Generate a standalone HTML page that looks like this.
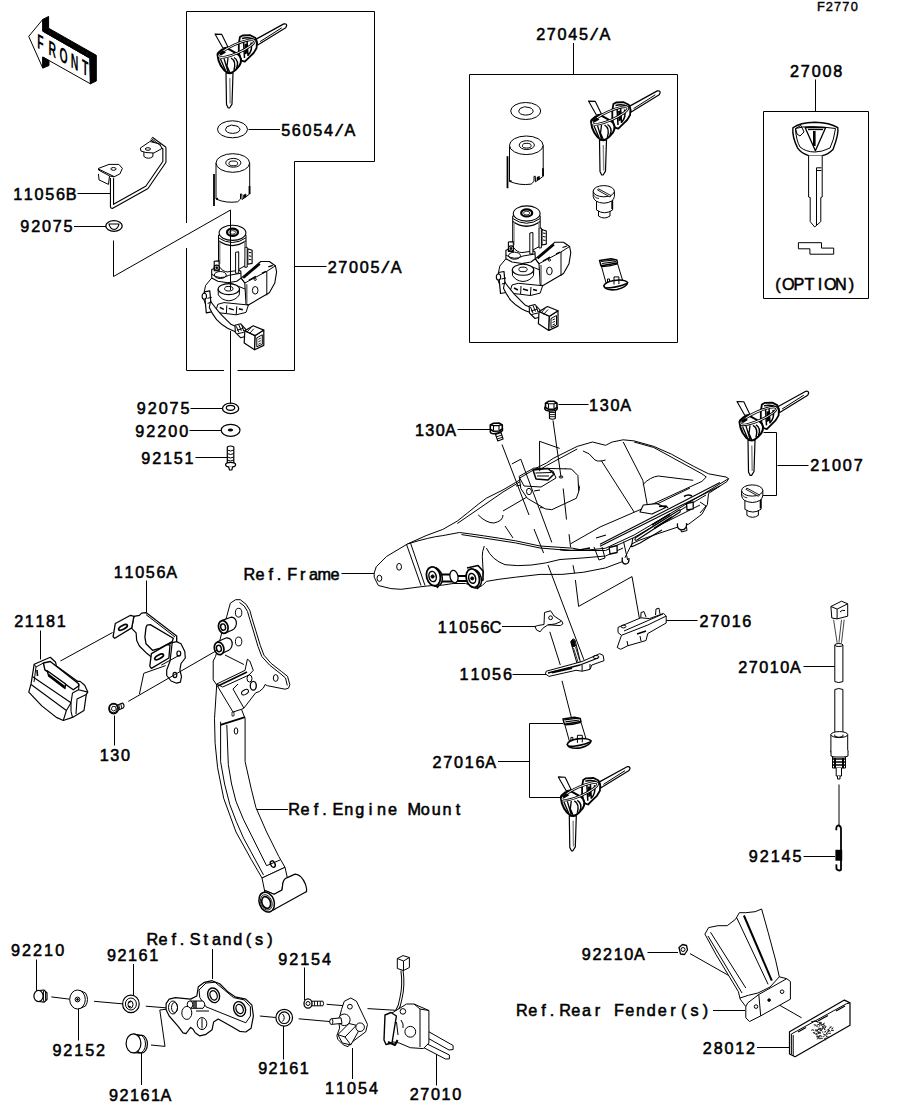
<!DOCTYPE html>
<html><head><meta charset="utf-8"><style>
html,body{margin:0;padding:0;background:#fff;width:914px;height:1103px;overflow:hidden}
svg{position:absolute;left:0;top:0}
.tx{font-family:"Liberation Sans",sans-serif;fill:#000;stroke:#000}
.ln line,.ln path{stroke:#000;stroke-width:1;fill:none}
.p{stroke:#000;stroke-width:1;stroke-linejoin:round}
</style></head><body>
<svg width="914" height="1103" viewBox="0 0 914 1103">
<g class="ln">
<line x1="573.5" y1="43" x2="573.5" y2="74.5"/>
<path d="M469.5,74.5 L677.5,74.5 L677.5,342.5 L469.5,342.5 Z"/>
<line x1="815.5" y1="79.5" x2="815.5" y2="111.5"/>
<path d="M763.5,111.5 L868.5,111.5 L868.5,298.5 L763.5,298.5 Z"/>
<line x1="248.5" y1="129.5" x2="280" y2="129.5"/>
<path d="M186.5,223 L186.5,11.5 L374.5,11.5 L374.5,161.5 L294.5,161.5 L294.5,370.5 L237.5,370.5"/>
<path d="M224,370.5 L186.5,370.5 L186.5,248"/>
<line x1="294.5" y1="266.5" x2="326.5" y2="266.5"/>
<line x1="77.5" y1="193.5" x2="110" y2="193.5"/>
<line x1="74" y1="226.5" x2="106" y2="226.5"/>
<path d="M113.5,240.5 L113.5,276.5 L230.5,210 L230.5,290"/>
<line x1="230.5" y1="331" x2="230.5" y2="407.5"/>
<line x1="190.5" y1="408.5" x2="222.5" y2="408.5"/>
<line x1="189.5" y1="430.5" x2="221" y2="430.5"/>
<line x1="195.5" y1="457.5" x2="227.5" y2="457.5"/>
<line x1="558.5" y1="404.5" x2="588.5" y2="404.5"/>
<line x1="457.5" y1="429.5" x2="491" y2="429.5"/>
<line x1="777.5" y1="465.5" x2="808.5" y2="465.5"/>
<path d="M763.5,432.5 L776.5,432.5 L776.5,495.5 L762,495.5"/>
<line x1="341.5" y1="573.5" x2="374.5" y2="573.5"/>
<line x1="146.5" y1="580.5" x2="146.5" y2="612.5"/>
<line x1="40.5" y1="630.5" x2="40.5" y2="659.5"/>
<line x1="666" y1="620.5" x2="697.5" y2="620.5"/>
<line x1="502" y1="626.5" x2="538" y2="626.5"/>
<line x1="512.5" y1="674.5" x2="546" y2="674.5"/>
<line x1="803.5" y1="666.5" x2="835" y2="666.5"/>
<line x1="114.5" y1="715.5" x2="114.5" y2="745.5"/>
<line x1="498" y1="761.5" x2="529.5" y2="761.5"/>
<path d="M563,723.5 L529.5,723.5 L529.5,797.5 L561.5,797.5"/>
<line x1="256" y1="809.5" x2="288" y2="809.5"/>
<line x1="803.5" y1="856.5" x2="835" y2="856.5"/>
<line x1="212.5" y1="949" x2="212.5" y2="979"/>
<line x1="36.5" y1="959.5" x2="36.5" y2="991"/>
<line x1="133.5" y1="964" x2="133.5" y2="996"/>
<line x1="304.5" y1="967.5" x2="304.5" y2="1000"/>
<line x1="647.5" y1="952.5" x2="678" y2="952.5"/>
<line x1="713" y1="1010.5" x2="745" y2="1010.5"/>
<line x1="78.5" y1="1008" x2="78.5" y2="1040.5"/>
<line x1="757" y1="1047.5" x2="789" y2="1047.5"/>
<line x1="283.5" y1="1026" x2="283.5" y2="1059.5"/>
<line x1="352.5" y1="1048" x2="352.5" y2="1079"/>
<line x1="436.5" y1="1052" x2="436.5" y2="1085.5"/>
<line x1="141.5" y1="1052.5" x2="141.5" y2="1085"/>
</g>
<defs>
<g id="keyset" class="p" fill="#fff">
 <path d="M215,34.1 L221.8,34.4 L227.9,47 L222.9,48 Z" stroke-width="1.1"/>
 <path d="M256.2,39.1 L283.8,23.9 Q286.5,23.4 286.7,25.6 L285.7,27.8 L257.7,45 Z" stroke-width="1.2"/>
 <path d="M260.1,41.6 L281.8,27.8" fill="none"/>
 <path d="M239.9,37.1 L242.6,35.5 L250.3,35.2 L255.2,37.7 L256.9,42 L256.6,48 L253.6,53 L248.1,58.4 L244.8,61.7 L241.5,60.6 L239.9,57.4 L238.8,50.8 L238.8,43.7 Z" stroke-width="1.8"/>
 <path d="M242,38.5 Q249,36.5 255,40 M243.5,41 L244.5,58 M247,40 L248,56 M251,42.5 Q253,50 248,55.5" fill="none" stroke-width="1.5"/>
 <path d="M244.5,44 L247.5,43.5 L247.8,53 L245,54.5 Z" fill="#000" stroke="none"/>
 <path d="M226,73 L226.5,104.6 L228.2,108 L229.6,108 L232,104.1 L233,73 Z" stroke-width="1.2"/>
 <path d="M229.8,78 L230.2,103.6" fill="none" stroke="#888" stroke-width="1.4"/>
 <path d="M217.5,54.6 L218,53 L221.8,49.7 L225.1,48.6 L228.4,48.9 L237.7,54.1 L239.9,56.3 L241,59.5 L240.7,62.8 L239.4,65.6 L236.1,69.4 L232.8,72.1 L230,73.2 L227.3,72.7 L224,70 L220.8,65.6 L218.6,60.6 Z" stroke-width="2"/>
 <path d="M220.5,59 L225.5,70.5 M224,58.5 L228,72 M228,58 L227,66 L230,73" fill="none" stroke-width="1.3"/>
 <path d="M231,58 Q236.5,61 234,70 M234,57.5 Q239.5,61 236.5,68" fill="none" stroke-width="1.4"/>
 <ellipse cx="236.6" cy="48.6" rx="19.4" ry="4.4" transform="rotate(-24 236.6 48.6)" fill="none" stroke-width="2.6"/>
 <ellipse cx="236.6" cy="48.6" rx="19.4" ry="4.4" transform="rotate(-24 236.6 48.6)" fill="none" stroke="#fff" stroke-width="0.9"/>
 <path d="M219,53.5 L223,50.5 L226,52.5 L221,55.5 Z" fill="#000" stroke="none"/>
</g>
<g id="washer" class="p" fill="#fff">
 <ellipse cx="232.5" cy="129.3" rx="15" ry="8.5"/>
 <path d="M225.5,129.5 Q226,126 230,125.6 Q231.5,124.5 233,125.4 Q239.5,125.8 240,129.5 Q239.5,133 232.5,133.4 Q226,133 225.5,129.5 Z"/>
</g>
<g id="cap" class="p" fill="#fff">
 <path d="M216,163 L216,199 Q226,203.5 237.7,201.8 L240.5,199 L240.5,194 L241.8,194 L242,199.5 L249.7,194 L249.7,163 Z"/>
 <ellipse cx="232.8" cy="163" rx="16.8" ry="9.3"/>
 <ellipse cx="233.3" cy="162.8" rx="7.6" ry="4.4"/>
 <ellipse cx="233.3" cy="163.4" rx="4.4" ry="2.4"/>
 <path d="M214,174 L214,206 M216,199 L218,198.5" fill="none" stroke-width="1.8"/>
 <path d="M249.5,186 L249.5,194" fill="none" stroke-width="1.8"/>
 <path d="M243.5,195 L246,194 L246,197 L243.5,198 Z" fill="#000" stroke-width="0.6"/>
</g>
<g id="switch" class="p" fill="#fff">
 <!-- lower body / base -->
 <path d="M505.9,258.8 L499.8,266.1 L497.3,278.4 L501,288.2 L509.6,293.1 L520.6,294.3 L530.4,295.5 L540.2,293.1 L542.6,285.7 L540,270 L520,262 Z"/>
 <path d="M512,285 L518.2,283.3 L542.6,285.7 M509.6,293.1 L512,285 M520.6,294.3 L521,286 M530.4,295.5 L531,287" fill="none"/>
 <path d="M514,288 L518,290 M523,289 L528,290.5 M533,289.5 L537,290.5" fill="none" stroke-width="1.4"/>
 <!-- left clamp -->
 <path d="M498.5,272.5 L504,271.5 L505.9,292.5 L500.5,293.5 Z" stroke-width="1.2"/>
 <ellipse cx="498.5" cy="277" rx="2.2" ry="3" stroke-width="1.1"/>
 <path d="M501.5,279 L506,278 M501.8,284 L506,283" fill="none"/>
 <!-- right block -->
 <path d="M535.3,258.8 L554.9,242.2 L563.5,242.2 L569.6,246.5 L570.8,252.6 L569,263.7 L563.5,273.5 L542.6,285.7 L540.2,284.5 L539,263.7 Z" stroke-width="1.1"/>
 <path d="M539,263.7 L561,252 L569.6,246.5 M561,252 L561,276" fill="none"/>
 <path d="M535.3,258.8 L539,263.7" fill="none"/>
 <path d="M537.5,258.5 L554,244.5" fill="none" stroke-width="2.2"/>
 <path d="M543,261 L550,257 M556,254 L560,252 M562.5,247.5 L567,246" fill="none" stroke-width="1.3"/>
 <ellipse cx="549.4" cy="271" rx="2.8" ry="3.8"/>
 <circle cx="549.4" cy="260" r="1.1" fill="none"/>
 <path d="M541,265 L541,284" fill="none" stroke="#666" stroke-width="1.4"/>
 <!-- lower ring -->
 <path d="M512.3,269.8 L512.5,275.5 Q516,281 523,281.5 Q530,281 533.5,275.5 L533.7,269.8 Z"/>
 <ellipse cx="523" cy="269.8" rx="10.7" ry="5.5" stroke-width="1.1"/>
 <ellipse cx="523" cy="269.4" rx="4.2" ry="2.3"/>
 <!-- housing between -->
 <path d="M505.9,250.2 L514.5,247 L530,249 L535,252 L535.3,258.8 L531,262 L522,263.5 L512,262 L505.9,258.8 Z" stroke-width="1.1"/>
 <path d="M505.9,255 Q514.5,261 523,256 L535,254" fill="none"/>
 <ellipse cx="514.5" cy="255.7" rx="6" ry="3.5" fill="none"/>
 <!-- tabs -->
 <path d="M542,229.4 L546.3,231 L546.3,244.1 L542,245 Z" stroke-width="1.1"/>
 <path d="M543,233 L545.5,233.5 M543,236.5 L545.5,237 M543,240 L545.5,240.5" fill="none"/>
 <!-- cylinder -->
 <path d="M512.7,215.9 L512.7,246.5 Q517,252.6 521.8,252.6 L530.4,251.4 L540.2,246 L540.2,215.9 Z"/>
 <path d="M512.7,218.5 Q526.5,228 540.2,218.5" fill="none"/>
 <path d="M512.7,221.5 Q526.5,231 540.2,221.5" fill="none" stroke-width="1.3"/>
 <path d="M529.8,233 L532.9,232.5 L532.9,253.9 L529.8,254 Z"/>
 <path d="M539,228.2 L541.4,228 L541.4,247.8 L539,248 Z"/>
 <path d="M514,222 L514,245 M539,222 L539,240" fill="none" stroke="#777" stroke-width="1.2"/>
 <ellipse cx="526.7" cy="213.5" rx="13.4" ry="7.6" stroke-width="1.1"/>
 <ellipse cx="526.7" cy="212.9" rx="5.5" ry="3.6" stroke-width="2.2"/>
 <ellipse cx="526.7" cy="213.1" rx="3.2" ry="1.8" fill="none" stroke-width="0.8"/>
 <!-- left post -->
 <path d="M508.4,242 L513.3,241.6 L513.3,251.4 L508.4,251.4 Z" stroke-width="1.1"/>
 <circle cx="511" cy="248.5" r="2.6" stroke-width="1.2"/>
 <circle cx="511" cy="248.5" r="1" fill="#000"/>
 <!-- wire -->
 <path d="M504.7,282 Q509,288 514.5,294.3 Q520,300 525.5,305.3 L531.6,307.8 L530.4,312.6 Q526,311 521.8,309 Q515,305 510.8,300.4 Q506,294 503.5,288.2 Z" stroke-width="1.1"/>
 <!-- wire boot -->
 <path d="M529.2,306 L535,304.5 L540,310 L540,317 L535,318.5 L529.5,313 Z" stroke-width="1.1"/>
 <path d="M530.5,307 L533,313 M533,305.5 L535.5,311.5 M536,306 L538,312 M531,311 L537.5,309 M531.5,314.5 L538,313" fill="none" stroke-width="1"/>
 <!-- connector -->
 <path d="M539,311.4 L549.4,316.3 L548.8,330.4 L538.4,323.7 Z" stroke-width="1.2"/>
 <path d="M549.4,316.3 L558,310.8 L558,326.1 L548.8,330.4 Z" stroke-width="1.2"/>
 <path d="M539,311.4 L547.5,306.5 L558,310.8 L549.4,316.3 Z" stroke-width="1.2"/>
 <path d="M551,318.5 L556.5,315.5 L556.5,325 L551,327.5 Z" fill="none" stroke-width="1"/>
 <path d="M552.5,320 L555,318.8 M552.5,322.5 L555,321.3 M552.5,325 L555,323.8" fill="none" stroke-width="0.9"/>
 <path d="M541,313 L545,308.5 M543.5,314.5 L548,309.5" fill="none" stroke-width="0.9"/>
</g>
</defs>
<use href="#keyset"/>
<use href="#washer"/>
<use href="#cap"/>
<use href="#switch" transform="translate(-294.2,19.3)"/>
<use href="#washer" transform="translate(293.2,-18.3)"/>
<use href="#cap" transform="translate(293.5,-17.7)"/>
<use href="#switch"/>
<use href="#keyset" transform="translate(373.5,67)"/>
<use href="#keyset" transform="translate(522,367.4)"/>
<use href="#keyset" transform="translate(343.3,742.8)"/>
<defs>
<g id="plug" class="p" fill="#fff">
 <path d="M598.5,211 L598.5,216 Q604,220 610,216 L610,211 Z"/>
 <path d="M596.5,199 L596.5,210 Q604.5,215.5 612.6,210 L612.6,199 Z"/>
 <path d="M612.2,200 L612.2,209" stroke-width="1.8" fill="none"/>
 <path d="M593.2,191.2 L593.2,196.5 Q594,202.5 603.8,203.2 Q613.6,202.5 614.4,196.5 L614.4,191.2 Z"/>
 <ellipse cx="603.8" cy="191.2" rx="10.6" ry="5.6"/>
 <path d="M597.5,190 L598.5,188.8 L611,195.6 L610,197 Z" fill="#fff" stroke-width="0.9"/>
 <path d="M593.5,195 Q596,199 599,198.5" fill="none" stroke-width="0.8"/>
</g>
<g id="lockcyl" class="p" fill="#fff">
 <path d="M600.6,263.3 L616.8,261.3 L622.5,280 L606.4,284.2 Z"/>
 <path d="M603.75,286 Q605,282 614,280.5 Q624,279 627.7,282.5 Q627,287 617,289.5 Q606,291 603.75,286 Z" fill="#fff" stroke-width="1.6"/>
 <path d="M605,288 Q616,288 627,283.5" fill="none" stroke-width="1.6"/>
 <path d="M614,284.5 L614,276.9 L618.9,276.9 L618.9,284" fill="none"/>
 <path d="M607.5,282 L607.5,279 L609.5,279 L609.5,282" fill="none"/>
 <path d="M599.6,260.5 L611,258.8 L616.8,260 L617.5,263 L601,265.8 Z" fill="#fff" stroke-width="1.5"/>
 <path d="M601,261.5 L615,259.8 M602,263.5 L616,261.6" fill="none" stroke-width="1.2"/>
 <path d="M602,266.5 Q609,266.5 617.5,264" fill="none" stroke-width="1.3"/>
</g>
</defs>
<use href="#plug"/>
<use href="#lockcyl"/>
<use href="#plug" transform="translate(148.4,299.3)"/>
<use href="#lockcyl" transform="translate(-36.6,458.4)"/>
<g class="p" fill="#fff">
 <path d="M792.9,127.7 Q800,122.5 814.7,122.2 Q830,122.5 837.8,127.7 Q839,134 833,149.5 Q828,154.5 822.2,155.6 L808.6,155.6 Q801,153 797.7,148.1 Q792,137 792.9,127.7 Z" stroke-width="1.4"/>
 <path d="M795.5,128.5 Q808,124.5 835.5,128.5 Q834,140 830,148 Q822,152 815,152 Q806,152 800,147 Q796,140 795.5,128.5 Z" fill="none"/>
 <path d="M805.2,127.7 L825.6,127.7 L815.4,150.8 Z" fill="none" stroke-width="1.3"/>
 <path d="M808,129.5 L823,129.5" stroke-width="1.3"/>
 <path d="M814.3,131 L814.3,146" stroke-width="2.6"/>
 <path d="M795.5,128.5 L801,125.5 L804,132 L800,136 L797,134 Z" fill="none"/>
 <path d="M808.6,155.6 L808.6,197 L810.2,197.5 L810.2,221.6 L814.7,227 L820.8,221.6 L820.8,197.5 L822.2,197 L822.2,155.6" />
 <path d="M816.5,167.8 L816.5,225 M821.5,167.8 L816.5,167.8 M816.5,170.5 L821.5,170.5" fill="none"/>
 <path d="M798.4,242.7 L821.5,242.7 L821.5,248.1 L833.7,248.1 L833.7,254.2 L809.9,254.2 L809.9,248.8 L798.4,248.8 Z"/>
</g>
<g class="p" fill="none">
 <path fill="#fff" d="M374.2,573 L376.2,566.8 L386.6,556.4 L407.4,544 L426.1,535.6 L442.8,529.4 L457.3,521.1 L467.7,512.8 L478.1,504.4 L486.4,498.2 L503,489.9 L515.5,482.6 L523.8,477.4 L534.2,469.1 L546.7,462.9 L553.1,458.4 L577.2,446.4 L592.5,442 L605.6,445.3 L612.2,442 L623.2,439.8 L634.1,440.9 L653.8,446.4 L671.3,454.1 L693.2,466.1 L708.5,473.8 L726,477 L728.6,478.6 L727.1,481.4 L708.5,493.5 L707.4,504.4 L701.9,514.2 L688.8,524.1 L680,526.3 L660,533 L640,540 L631.9,543.8 L627.5,552.5 L623.2,561.3 L605.6,567.9 L583.8,572.2 L561.9,574.4 L540,574.4 L515.5,577.2 L498.9,579.3 L486.4,581.4 L482.3,585.5 L478.1,587.6 L465.6,583.5 L453.2,583.5 L442.8,585.1 L432.4,585.5 L422,586.6 L401.2,589.3 L390.8,588.6 L378.3,585.5 L374.2,577.2 Z"/>
 <path d="M407.4,544 Q430,537 442.8,535.6 L459.4,532.5 Q480,535 515.5,540.8 L540,546 L572.8,548.2 L583.8,550.4 L605.6,548.2 L634.1,535 L704.1,493.5 L728.6,478.6"/>
 <path d="M461.5,534.6 L515.5,542.9 L540,548 L570,550.5 L605.6,550.5 L634.1,537.5 L706,495"/>
 <path d="M634.1,442 L653.8,447.5 L701.9,473.8 L706.3,477 L701.9,481.4 L647.2,506.6 L600,527 L570.6,543.8"/>
 <path d="M486.4,548.1 Q492,560 505,564.7 Q530,568 560,559.5 Q585,558 605.6,556 L623,548"/>
 <path d="M484.3,546 Q482,552 482.3,556.4 L483.3,575.1"/>
 <path d="M406.4,544 L421,585.5 M410.5,543 L425,585.5"/>
 <path d="M540,507.7 L553.1,507.7 L576.1,495.6 Q580,490 579.4,486.9 L572.8,470.5"/>
 <path d="M601.3,460.6 L634.1,512"/>
 <path d="M623.2,442 L642.8,480.3 L647.2,504.4"/>
 <path d="M642.8,484.7 Q650,477 658.2,476 L693.2,480.3"/>
 <path d="M457.3,523.5 Q480,508 503,492 L546.7,465.5 L577.2,449"/>
 <path d="M478.1,514.8 Q486,523 494,523 Q503,521 503,515"/>
 <path d="M503,511 L527,497 L552,488 L576,480"/>
 <path d="M583,451 Q590,453 593,458 Q596,463 605.6,460"/>
 <path d="M505,526 L513,538 M538,474 L555,485"/>
 <path d="M655,505 L690,488 M660,525 L700,505"/>
 <path d="M700,513 L706,506 L700,502 M679.5,526 L681.5,532 L687,530.5 L686,523.5"/>
 <path d="M594,547 L599,560 L605,558 L602,547"/>
 <path d="M565,468 L569,480"/>
 <path d="M600,544.3 L720,482.6 M600,546.3 L720,485.9" stroke-width="1.1"/>
 <path d="M635.4,537.8 L678.8,510.2 Q681,509 680,512 L637,540 Q634,541 635.4,537.8 Z" fill="#fff" stroke-width="1.2"/>
 <path d="M652,525 L670,514 M654,528.5 L672,517" stroke-width="1.6"/>
 <path d="M632.8,538 L631.5,547 M631.5,547 L640,543 L662,530" stroke-width="1.1"/>
 <path d="M609.2,547.5 L617.1,545.5 L617.1,552.5 L610,554 Z" fill="#fff" stroke-width="1.3"/>
 <path d="M686.6,503.6 L693.2,502 L693.2,508.9 L687,510 Z" fill="#fff" stroke-width="1.3"/>
 <path d="M677.5,523.3 Q676.5,529.5 682,529.9 Q687,529.5 686.6,523.3" fill="#fff" stroke-width="1.3"/>
 <path d="M622.3,557.5 Q621.5,564 625.5,564 Q629.5,564 628.9,558" fill="#fff" stroke-width="1.3"/>
 <path d="M643.3,505 L656.5,503.6 L665.6,507.6 L652,514 L640,512 Z" fill="#fff" stroke-width="1.1"/>
 <path d="M659,506.5 L666,506 L668,508" stroke-width="1.4"/>
 <path d="M684,496.5 Q688,494 692,496" stroke-width="1.5"/>
 <path d="M623.6,541.7 L627.6,560" stroke-width="1"/>
 <path d="M596,538 L606,535 M560,549.5 Q575,552 590,548" stroke-width="1.3"/>
 <ellipse cx="379.4" cy="578.3" rx="2.4" ry="3.1"/>
 <ellipse cx="399.1" cy="566.8" rx="2.4" ry="3.4"/>
 <path d="M438,574.5 L452,574.5 L452,581.5 L438,581.5 Z" fill="#fff" stroke-width="1.8"/>
 <path d="M456,575.8 L469,576 L469,581 L456,581 Z" fill="#fff" stroke-width="1.8"/>
 <path d="M436,577 Q440,586 437,588 M476,579 Q481,586 477,589" stroke-width="1.5"/>
 <ellipse cx="454" cy="576.6" rx="4" ry="6.3" transform="rotate(-12 454 576.6)" fill="#fff" stroke-width="1.3"/>
 <ellipse cx="435.6" cy="577" rx="6.5" ry="9.6" transform="rotate(-15 435.6 577)" fill="#fff" stroke-width="1.5"/>
 <ellipse cx="433.4" cy="576.3" rx="6.8" ry="9.6" transform="rotate(-15 433.4 576.3)" fill="#fff" stroke-width="1.8"/>
 <ellipse cx="432.6" cy="576.5" rx="3.6" ry="5.2" transform="rotate(-15 432.6 576.5)" stroke-width="1.5"/>
 <circle cx="432.6" cy="576.5" r="1.6" fill="#000"/>
 <path d="M467,568 L478,565.5 L483,571 L483,580 L478,582" fill="#fff" stroke-width="1.6"/>
 <ellipse cx="474.8" cy="578.8" rx="6.5" ry="9.4" transform="rotate(-15 474.8 578.8)" fill="#fff" stroke-width="1.5"/>
 <ellipse cx="472.8" cy="578.2" rx="6.5" ry="9.4" transform="rotate(-15 472.8 578.2)" fill="#fff" stroke-width="1.8"/>
 <ellipse cx="472.2" cy="578.4" rx="3.4" ry="5" transform="rotate(-15 472.2 578.4)" stroke-width="1.5"/>
 <circle cx="472.2" cy="578.4" r="1.5" fill="#000"/>
 <path d="M519.2,476.3 L533.8,468.1 L571.4,469 L577.9,475.5 L578.7,491.8 L576.3,498.3 L551.8,509.7 L545.3,508.9 L527.3,498.3 L520.8,488.5 Z" fill="#fff"/>
 <path d="M519.7,478 L536,468.5 L553,471 L556,478 L541,487 L524,486 Z" fill="#fff"/>
 <path d="M533,470 L548,468.5 L554,474 L548,480 L536,479 Z" fill="#fff" stroke-width="1.5"/>
 <path d="M535.5,473 L551,472.5 M537,476 L549,476" stroke-width="1.2"/>
 <ellipse cx="529" cy="491.5" rx="2.5" ry="3.2"/>
 <ellipse cx="561" cy="477" rx="2" ry="1"/>
 <path d="M516,486 L521,485 M534,491 L540,490" stroke-width="1.2"/>
</g>
<g class="p" fill="#fff">
 <path d="M549.3,410.5 L549.5,418.5 Q552.3,420 555.3,418.5 L555.5,410.5 Z" stroke-width="1.1"/>
 <path d="M549.4,412.5 L555.4,412.5 M549.4,414.6 L555.4,414.6 M549.4,416.7 L555.4,416.7" stroke-width="0.9"/>
 <ellipse cx="551" cy="408.3" rx="6.3" ry="2.8" stroke-width="1.5"/>
 <path d="M545.5,403.2 L548.5,401.3 L554,401.3 L557,403.2 L557,407.5 L554,409.2 L548.5,409.2 L545.5,407.5 Z" stroke-width="1.6"/>
 <path d="M548.5,403.8 L554,403.8 L554,408.5 M548.5,403.8 L548.5,408.5 M545.5,403.2 L548.5,403.8 M557,403.2 L554,403.8" fill="none" stroke-width="1.1"/>
 <path d="M494.8,432.3 L497.8,441 L503.1,439 L500.5,431 Z" stroke-width="1.1"/>
 <path d="M495.7,434.5 L501,432.8 M496.5,436.8 L501.9,435 M497.2,439 L502.6,437.2" stroke-width="0.9"/>
 <ellipse cx="496.4" cy="430.5" rx="6.3" ry="2.8" transform="rotate(-12 496.4 430.5)" stroke-width="1.5"/>
 <path d="M490.3,425 L493.5,423.2 L499,423 L502.3,425 L502.3,429 L499,431 L493.5,431.2 L490.3,429.3 Z" stroke-width="1.6"/>
 <path d="M493.5,425.6 L499,425.4 L499,430 M493.5,425.6 L493.5,430.5 M490.3,425 L493.5,425.6 M502.3,425 L499,425.4" fill="none" stroke-width="1.1"/>
</g>
<g class="ln">
 <path d="M230.5,210 L230.5,290"/>
 <path d="M502,444.5 L529,515 M534,529 L543.6,553 M548,565 L583.9,659.8"/>
 <path d="M511.8,464 L520.8,459.2 L551.8,542.4"/>
 <path d="M553,420.5 L561,477 M563.2,488.5 L566.5,519.5 M569,534.2 L570.6,547.3 M573,565.2 L574.6,573.4 M575.4,580 L578.6,606.4 L632,576.6 L639.9,621.3"/>
 <path d="M549.8,631.8 L560.3,665 M562,680.8 L571.6,718.4"/>
 <path d="M539.5,441.3 L539.7,471.2 M539.5,441.3 L559.7,448.4"/>
</g>
<g class="p" fill="#fff">
 <!-- 11056C -->
 <path d="M544.5,612.5 L550.6,610.8 L554.1,616 L562,621.3 L562.9,623.9 L560.3,625.6 L548,624.8 L542.8,628.3 L540.1,631.8 L536.6,630 L534.9,626.5 L537.5,625.6 L544,624.5 Z"/>
 <circle cx="550.6" cy="617.8" r="1.9"/>
 <path d="M548,624.8 L555,624 L561,621.5" fill="none"/>
 <!-- 11056 plate -->
 <path d="M570.8,642 L573,638.8 L575,640 L580.4,662 L577,663.3 Z"/>
 <path d="M571,641 L574,640 L575.5,646 L572.5,647 Z" fill="#000"/>
 <path d="M573.5,648 L578,662 M575.5,647 L579.5,660" fill="none" stroke-width="0.8"/>
 <path d="M546.3,671.2 L582.1,661.5 L599.7,653.7 L603.2,655.4 L604,660.7 L591.8,665 L590,669.4 L582.1,671.2 L576,670.3 L548.9,676.4 L545.4,673.8 Z"/>
 <path d="M548,673 L580,665 L598,658" fill="none" stroke-width="1.3"/>
 <path d="M552,672.5 L572,668" fill="none" stroke-width="2"/>
 <path d="M582.1,665 L582.1,671.2 M590,664 L590,669" fill="none"/>
 <ellipse cx="596" cy="657" rx="3" ry="1.5" fill="none"/>
 <!-- 27016 bracket -->
 <path d="M618,627.4 L640.8,617.8 L649.5,618.6 L663.5,613.4 L666.2,616 L666.2,623 L647.8,633.5 L646,640.5 L627.7,645.8 L620.7,649.3 L617.2,647.5 L621.5,635.3 L618,632.6 Z"/>
 <path d="M621.5,635.3 L647.8,625 L666.2,616 M624,631 L663,614" fill="none"/>
 <path d="M640.8,617.8 L641,612.5 L644,611.6 L646,617" fill="none"/>
 <path d="M655.5,615 L656,609 L659,608.2 L660,614" fill="none"/>
 <path d="M627,641 L628,646 M640,636 L641,641" fill="none"/>
 <ellipse cx="623.5" cy="626.5" rx="2.4" ry="1.4" fill="none"/>
 <path d="M637,634 L646,631" fill="none" stroke-width="1.5"/>
</g>
<g class="p">
<path d="M28.7,36.4 L42.8,19.4 L42.8,31.2 L89.9,58.2 L90.4,83.8 L42.8,57 L42.8,68.1 Z" fill="#fff"/>
<path d="M42.8,19.4 L48.6,16.4 L48.6,28.2 L96.3,55.3 L96.3,81 L90.4,83.8 L89.9,58.2 L42.8,31.2 Z" fill="#000"/>
<rect x="48.88" y="30.78" width="1" height="1" fill="#fff"/>
<rect x="52.62" y="32.95" width="1" height="1" fill="#fff"/>
<rect x="56.38" y="35.12" width="1" height="1" fill="#fff"/>
<rect x="60.12" y="37.28" width="1" height="1" fill="#fff"/>
<rect x="63.88" y="39.45" width="1" height="1" fill="#fff"/>
<rect x="67.62" y="41.62" width="1" height="1" fill="#fff"/>
<rect x="71.38" y="43.78" width="1" height="1" fill="#fff"/>
<rect x="75.12" y="45.95" width="1" height="1" fill="#fff"/>
<rect x="78.88" y="48.12" width="1" height="1" fill="#fff"/>
<rect x="82.62" y="50.28" width="1" height="1" fill="#fff"/>
<rect x="86.38" y="52.45" width="1" height="1" fill="#fff"/>
<rect x="90.12" y="54.62" width="1" height="1" fill="#fff"/>
<path d="M42.8,57 L49,60.6 L49,65.5 L42.8,68.1 Z" fill="#000"/>
</g>
<g transform="translate(0,0) matrix(1,0.574,0,1,0,0)" font-family="Liberation Sans" font-weight="bold" fill="#000">
<text transform="translate(37.2,26.3) scale(0.5,1)" font-size="21">F</text>
<text transform="translate(48.5,26.3) scale(0.5,1)" font-size="21">R</text>
<text transform="translate(59.4,26.3) scale(0.5,1)" font-size="21">O</text>
<text transform="translate(70.7,26.3) scale(0.5,1)" font-size="21">N</text>
<text transform="translate(82,26.3) scale(0.5,1)" font-size="21">T</text>
</g>
<g class="p" fill="#fff">
 <!-- 21181 box -->
 <path d="M41.8,705.1 L43,703 L58.5,714.5 L57.2,717.4 Z" fill="#fff" stroke-width="1.3"/>
 <path d="M34.2,664.2 L50.3,657.3 L55.6,662.3 L56.4,666.1 L77.8,681.4 L80.1,681.4 L84.7,685.2 L87.8,692.1 L86.3,694.4 L84,710.5 L72.5,717.4 L63.3,720.5 L56.4,717.4 L41.8,705.9 L28.8,692.1 L31.1,683.7 Z" stroke-width="1.2"/>
 <path d="M32.7,676.8 L71,702.8 L72.5,692.9 M31.1,684.5 L66.4,710.5 L63.3,720.5 M66.4,710.5 L71,702.8" fill="none" stroke-width="1.1"/>
 <path d="M72.5,692.9 L78.6,689.8 L87.8,692.1 M78.6,689.8 L79,684 M71,711.3 L72.5,717.4 M71,702.8 L71,711.3 M86.3,694.4 L77,699 L76,714" fill="none" stroke-width="1.1"/>
 <path d="M34.2,664.2 L36,667 L34,682 M36,667 L43.4,663" fill="none"/>
 <path d="M43.4,663 L50.3,661.5 L78.6,683.7 L78.6,686 L73.3,689.8 L44.9,669.9 Z" fill="#fff" stroke-width="1.4"/>
 <path d="M47.2,670.7 L65.6,684 L65,688.5 L48.7,676 Z" fill="#fff" stroke-width="1.4"/>
 <path d="M48.5,675 L64.5,687" fill="none" stroke-width="2.2"/>
 <path d="M37,670 L37.5,676" fill="none" stroke-width="1.6"/>
 <!-- 11056A bracket -->
 <path d="M139.4,694.1 L143.8,673.3 L165.6,665.6" fill="none"/>
 <path d="M176.6,636.1 L176.6,641.6 L181,643.8 L184.8,651.4 L185.3,658 L181,663.5 L179.9,670 L181.5,676.6 L180.4,682.1 L176.6,683.2 L171.1,681 L166.7,675.5 L166.7,670 L170,661.3 L172.2,642.7 Z" stroke-width="1.2"/>
 <ellipse cx="178.8" cy="653.6" rx="1.9" ry="2.6" fill="none" stroke-width="1.2"/>
 <ellipse cx="174.9" cy="675" rx="1.9" ry="2.6" fill="none" stroke-width="1.2"/>
 <path d="M133.9,616.4 L139.4,615.3 L141.6,613.1 L146,612.6 L176.6,636.1 L176.6,641.6 L172.2,642.7 L166.7,644.9 L151.4,656.9 L147,653.6 L139.4,646 L136.7,640.5 L136.1,632.8 L131.7,628.4 Z" stroke-width="1.2"/>
 <path d="M146,614.6 L175,637" fill="none"/>
 <path d="M147,625.2 L150.3,624.6 L173.3,638.3 L172.2,641.6 L160.2,648.1 L152.5,650.3 L146,643.8 L144.9,637.2 L146,627.4 Z" fill="none" stroke-width="1.3"/>
 <path d="M115.3,623.5 L130.6,615.3 L133.9,616.4 L131.7,627.9 L114.8,638.3 L113.1,636.7 Z" stroke-width="1.3"/>
 <ellipse cx="123" cy="627.4" rx="4.8" ry="1.9" transform="rotate(-28 123 627.4)" fill="none" stroke-width="1.8"/>
 <path d="M151.4,653.6 L166.7,644.9 L170,644.9 L168.9,658 L151.4,668.4 L149.8,666.2 Z" stroke-width="1.3"/>
 <ellipse cx="159.1" cy="656.9" rx="4.8" ry="1.9" transform="rotate(-28 159.1 656.9)" fill="none" stroke-width="1.8"/>
 <path d="M161.3,665.1 L179.3,655.3" fill="none"/>
 <!-- 130 bolt -->
 <path d="M116.5,705.5 L122.5,703 Q125,705 123.5,707.8 L117.5,710.5 Z" stroke-width="1.1"/>
 <path d="M118.8,704.5 L119.8,709.5 M120.8,703.7 L121.8,708.7" fill="none" stroke-width="0.9"/>
 <ellipse cx="113.6" cy="708.6" rx="4.8" ry="5.2" stroke-width="1.2"/>
 <path d="M110,705.6 L112.5,703.8 L116,704.3 L117.5,707.3 L116.7,711.5 L113.5,713 L110.2,711.6 L109.3,708.5 Z" stroke-width="1.2"/>
 <path d="M112.5,706.3 L115.5,706.6 L116.2,709.7 L113.5,711 M112.5,706.3 L111.2,709.5 L113.5,711" fill="none" stroke-width="0.9"/>
</g>
<g class="p" fill="#fff">
 <!-- engine mount arm -->
 <path d="M216.8,683.3 L214.5,718.7 L215.1,743.2 L217.6,767.7 L223.7,798.3 L236,832 L251.3,859.6 L262,878 L285,867.3 L278.8,856.5 L266.6,832 L255.9,807.5 L251.3,789.1 L245.1,761.6 L245.1,718.7 L241.5,709.3 Z"/>
 <path d="M220.6,721.7 L220.6,761.6 Q224,785 229.8,804.5 Q236,822 243.6,838.2 L263.5,874.9" fill="none"/>
 <path d="M226.8,724.8 L228.3,764.6 Q231,785 236,801.4 Q243,820 251.3,835.1 L266.6,865.7 L280,860" fill="none"/>
 <path d="M220.6,724.8 L245.1,717.1" fill="none" stroke-width="1.8"/>
 <ellipse cx="236" cy="731" rx="1.8" ry="3.2" fill="none"/>
 <ellipse cx="272.8" cy="864.1" rx="2.2" ry="3.4" transform="rotate(-25 272.8 864.1)" fill="none" stroke-width="1.4"/>
 <path d="M232,712 L234,712 L234,716 L232,716 Z" fill="none" stroke-width="0.8"/>
 <!-- bottom cylinder -->
 <path d="M262,878 L264.5,890.3 L274.1,894.3 L282,889.9 L282.9,882.9 L287.3,877.6 L285,867.3 Z"/>
 <path d="M264.5,890.3 L274.1,894.3 L282,889.9 L282.9,882.9 Q284,878.5 287.3,877.6 L295.1,874.1 Q301.3,874 305.6,884.6 Q307,889 306.5,891.6 L304.8,892.5 L275,909.1 L268.9,911.8 Z" stroke-width="1.2"/>
 <ellipse cx="266.7" cy="902.1" rx="7.4" ry="10.2" transform="rotate(-20 266.7 902.1)" stroke-width="1.5"/>
 <ellipse cx="266.3" cy="902.4" rx="5.6" ry="8" transform="rotate(-20 266.3 902.4)" fill="none" stroke-width="0.8"/>
 <ellipse cx="266.2" cy="902.5" rx="4.2" ry="6" transform="rotate(-20 266.2 902.5)" stroke-width="1.6"/>
 <!-- upper plate -->
 <path d="M230.3,603.2 L235.6,599.7 L240.3,599.7 L246.2,604.4 L249.8,610.3 L252.1,618.6 L255.7,630.3 L260.4,645.7 L263.9,655.1 L271,663.3 L281.6,671.6 L287.5,676.3 L289.8,684.5 L288.6,688.1 L285.1,689.2 L267.4,685.7 L265.1,684.5 L263.3,688.1 L259.2,691.6 L255.7,692.8 L243.9,708.1 L241.5,709.3 L233,712 L216.8,685 L213.2,679.8 L213.2,661 L215.6,656.3 L221.5,633.9 L226.8,616.2 Z"/>
 <path d="M239.5,602.5 Q245,605 247.5,611.5 L249.8,619.3 L253.4,631 L258,646.5 L261.8,656.5 L269.5,665 L280,673.3 L285.5,678 L287.3,685.5" fill="none"/>
 <path d="M216.8,684 L245,670.4 L247.4,659.2 L249.8,661 L253.3,670.4 L249,675 L222.7,687 Z" fill="#fff"/>
 <path d="M218,686 L247,672" fill="none" stroke-width="1.5"/>
 <path d="M233,689 L243.9,708.1 M233,689 L238,684" fill="none"/>
 <ellipse cx="238.6" cy="612.7" rx="3.2" ry="4.4" fill="none"/>
 <ellipse cx="238.6" cy="641.5" rx="3.2" ry="4.4" fill="none"/>
 <ellipse cx="275.7" cy="678" rx="2.4" ry="3.4" fill="none"/>
 <ellipse cx="253.3" cy="685.7" rx="3" ry="4.4" fill="none" stroke-width="1.3"/>
 <ellipse cx="245" cy="692.2" rx="3.8" ry="2.2" transform="rotate(-30 245 692.2)" fill="none"/>
 <ellipse cx="249.5" cy="678.5" rx="2.5" ry="3.5" fill="none"/>
 <!-- bushings -->
 <path d="M221.5,620.6 L231,617.2 Q236.8,617.5 236.4,624 Q235.5,629.5 230,631 L225,633.3 Z" stroke-width="1.2"/>
 <ellipse cx="223.3" cy="627" rx="4.7" ry="6.4" transform="rotate(-15 223.3 627)" stroke-width="1.7"/>
 <ellipse cx="223.1" cy="627.1" rx="2.4" ry="3.2" transform="rotate(-15 223.1 627.1)" stroke-width="1.4"/>
 <path d="M217.3,641.8 L226.5,637.8 Q232.5,638 232.2,644.5 Q231.5,650 226,651.5 L221,654 Z" stroke-width="1.2"/>
 <ellipse cx="219.1" cy="648.4" rx="4.7" ry="6.4" transform="rotate(-15 219.1 648.4)" stroke-width="1.7"/>
 <ellipse cx="218.9" cy="648.5" rx="2.4" ry="3.2" transform="rotate(-15 218.9 648.5)" stroke-width="1.4"/>
</g>
<g class="ln">
 <path d="M60.4,661 L112.6,632.5"/>
 <path d="M128.3,701.4 L217.6,650"/>
 <path d="M225,655 L243.9,664.5"/>
</g>
<g class="p" fill="#fff">
 <!-- 27010A -->
 <path d="M830.9,606.5 L841.5,601.2 L847.7,603.8 L847.7,616.2 L837.1,618.9 L831.8,618 Z"/>
 <path d="M830.9,606.5 L837.1,609.1 L847.7,603.8 M837.1,609.1 L837.1,618.9" fill="none"/>
 <path d="M840,612 Q842,609.5 845,610.5" fill="none"/>
 <path d="M833.6,619.7 L837.1,642.7 M841.5,619.7 L838.9,642.7 M844.2,619.7 L841.5,642.7" fill="none" stroke="#444"/>
 <path d="M834.8,645 L834.8,681.6 Q838.8,683.5 842.9,681.6 L842.9,645 Z"/>
 <ellipse cx="838.85" cy="645" rx="4" ry="1.5"/>
 <path d="M834.8,689.5 L834.8,734.6 L842.9,734.6 L842.9,689.5 Q838.8,687.5 834.8,689.5 Z"/>
 <path d="M830.9,734.6 L830.9,752.2 Q839,756 847.7,752.2 L847.7,734.6 Z"/>
 <ellipse cx="839.3" cy="734.6" rx="8.4" ry="3"/>
 <path d="M834.8,734.6 L834.8,736.5 Q838.8,738 842.9,736.5 L842.9,734.6" fill="none"/>
 <path d="M831,750.5 L831,756 Q839,760 848,756 L848,750.5" fill="#fff"/>
 <path d="M832.5,757 L832.5,768 L845.5,768 L845.5,757 Z" fill="#fff"/>
 <path d="M833,759 L845,759 M833,762 L845,762 M833,765 L845,765" stroke-width="1.5" fill="none"/>
 <path d="M835,758 L835,768 M843,758 L843,768" stroke-width="2" fill="none"/>
 <path d="M836.2,768 L836.2,776 L841.5,776 L841.5,768" />
 <path d="M837.5,776 L837.5,779 L840,779 L840,776" />
 <!-- spring -->
 <path d="M836.3,830.3 Q836,825.4 838.5,825.4 Q841,826 841,829 L841,869.8 Q839,871.5 836.5,869 L836.3,864.4" fill="none" stroke-width="1.8"/>
 <rect x="835.4" y="849.8" width="6.8" height="10.9" fill="#000" stroke="none"/>
</g>
<g class="ln">
 <path d="M839,784.5 L839,825.4"/>
</g>
<g class="ln">
 <path d="M51.3,996.9 L72.3,999.5"/>
 <path d="M94.1,1001.3 L123,1003.9"/>
 <path d="M145.8,1006.2 L166.8,1007.9"/>
 <path d="M151,1045 L165,1046.4 L159.8,1010 L168,1009"/>
 <path d="M259.8,1016 L275.8,1017.5"/>
 <path d="M298.7,1018.8 L330.3,1021.6"/>
 <path d="M326.6,1004.3 L345.2,1005.8"/>
 <path d="M367.5,1008.6 L399.2,1010.5"/>
 <path d="M690,953.6 L731,976.8"/>
 <path d="M762.5,995.4 L801.6,1017.8"/>
</g>
<g class="p" fill="#fff">
 <!-- 92210 cap nut -->
 <path d="M39,990.5 L44,990 L47,993 L47,999.5 L44,1002.2 L39,1001.5 Z" stroke-width="1.2"/>
 <path d="M43.5,991 L43.5,1001.5 M45.5,992 L45.5,1000.5" fill="none" stroke-width="0.9"/>
 <ellipse cx="38.5" cy="996" rx="4.6" ry="5.6" stroke-width="1.2"/>
 <!-- 92152 washer -->
 <path d="M80,990.5 L85.5,993 Q89.5,999.5 85.5,1006 L80,1008.5 Z"/>
 <ellipse cx="77.5" cy="999.5" rx="7.8" ry="9.5"/>
 <circle cx="77.5" cy="999.5" r="2.4"/>
 <circle cx="77.5" cy="999.5" r="0.9" fill="#000"/>
 <!-- 92161 nut -->
 <ellipse cx="130.9" cy="1003.9" rx="8.3" ry="8.8" stroke-width="1.2"/>
 <ellipse cx="130.9" cy="1004" rx="5.5" ry="6" fill="none"/>
 <ellipse cx="130.5" cy="1004.5" rx="2.5" ry="3.6" fill="none"/>
 <path d="M128.5,1002.5 L131,1001.5 M128,1006 L131,1007" stroke-width="1.2"/>
 <!-- 92161A cap -->
 <ellipse cx="141.4" cy="1044.1" rx="6" ry="9" stroke-width="1.2"/>
 <ellipse cx="139.5" cy="1044" rx="6" ry="9" fill="none"/>
 <path d="M133.5,1034 L139.5,1035 M133.5,1052.8 L139.5,1053" fill="none"/>
 <ellipse cx="133.5" cy="1043.4" rx="7.4" ry="9.5" stroke-width="1.2"/>
 <!-- stand plate -->
 <path d="M166.1,1003.7 L169.2,999.1 L175.3,997.6 L190.6,999.1 L196.8,996 L198.3,986.8 L204.4,982.3 L212.1,980.7 L219.7,983.8 L227.4,991.4 L235,996.8 L245.8,999.1 L251.9,1005.2 L253.4,1016 L251.1,1028.2 L245.8,1032 L239.6,1031.3 L232,1026.7 L218.2,1019 L213.6,1022.1 L212.1,1029.7 L206,1034.3 L199.8,1035.9 L195.2,1032.8 L192.9,1029 L190.6,1027.4 L188.3,1030.5 L186,1033.6 L183,1032.8 L178.4,1026.7 L169.2,1016 L166.1,1009.8 Z" stroke-width="1.2"/>
 <path d="M199,990 L206,983 L215.1,982.3 L224.3,989.9 L233.5,997.6 L244.2,999.9 L250.4,1006.8 L250.4,1016 L245.8,1022.8 L206,1006.8 L199.8,997.6 Z" fill="none"/>
 <ellipse cx="213.6" cy="995.3" rx="5.8" ry="7.5" transform="rotate(-20 213.6 995.3)" stroke-width="1.4"/>
 <ellipse cx="213.6" cy="995.3" rx="3.5" ry="4.8" transform="rotate(-20 213.6 995.3)" fill="none" stroke-width="1.3"/>
 <ellipse cx="239.6" cy="1009" rx="5.8" ry="7.5" transform="rotate(-20 239.6 1009)" stroke-width="1.4"/>
 <ellipse cx="239.6" cy="1009" rx="3.5" ry="4.8" transform="rotate(-20 239.6 1009)" fill="none" stroke-width="1.3"/>
 <ellipse cx="173" cy="1007.5" rx="4.5" ry="6.5" fill="none"/>
 <ellipse cx="174.5" cy="1007.5" rx="3" ry="5" fill="none"/>
 <path d="M190,1001 L203,1001 Q206.5,1004.5 203,1008.3 L190,1008.3 Z"/>
 <ellipse cx="190" cy="1004.6" rx="2.8" ry="3.7"/>
 <path d="M194,1001 L194,1008.3 M196,1001 L196,1008.3" fill="none" stroke-width="1.4"/>
 <ellipse cx="186.8" cy="1012.9" rx="5" ry="6.5"/>
 <ellipse cx="202" cy="1023.6" rx="4.8" ry="6" fill="none"/>
 <path d="M202,1018.5 L202,1028.5" fill="none"/>
 <path d="M196,1011 L209,1011" fill="none"/>
 <!-- 92161 (2) nut -->
 <ellipse cx="284.2" cy="1017.7" rx="8.3" ry="8.4" stroke-width="1.2"/>
 <ellipse cx="284.2" cy="1017.7" rx="5.5" ry="5.8" fill="none" stroke-width="1.2"/>
 <path d="M282.5,1014 Q286,1017.7 282.5,1021.5" fill="none"/>
 <!-- 92154 screw -->
 <path d="M311.7,1001.2 L322.9,1001.2 Q324.3,1003.5 322.9,1005.8 L311.7,1005.8 Z"/>
 <path d="M314.5,1001.2 L314.5,1005.8 M317.5,1001.2 L317.5,1005.8 M320.3,1001.2 L320.3,1005.8" fill="none" stroke-width="0.9"/>
 <ellipse cx="308" cy="1003.5" rx="4" ry="4.7" stroke-width="1.3"/>
 <circle cx="308" cy="1003.5" r="2" fill="none"/>
 <!-- 11054 -->
 <path d="M344.3,1001.2 L350.8,998 L356.4,1001.2 L367.5,1024.4 L365.7,1031.8 L358.2,1037.4 L350.8,1043 L348,1046.7 L343.4,1044.9 L337.8,1039.3 L336.9,1035.6 L339.6,1028.1 L338.7,1020.7 L341.5,1009.5 Z"/>
 <circle cx="349.9" cy="1006.7" r="2.4"/>
 <path d="M337.8,1034.6 L349,1023.5 L356.4,1025.3 L358.2,1031.8 L350.8,1044.9 L342.4,1043 Z"/>
 <path d="M337.8,1034.6 L345,1037 L350.8,1044.9 M345,1037 L356.4,1025.3" fill="none"/>
 <circle cx="360.1" cy="1027.2" r="4.3"/>
 <circle cx="344.3" cy="1019.8" r="5.8"/>
 <path d="M331.3,1018.8 L341,1017.8 L342,1023.4 L331.3,1024.4 Z"/>
 <ellipse cx="331.3" cy="1021.6" rx="1.6" ry="2.8"/>
 <!-- 27010 -->
 <path d="M402,970.5 Q404,985 401,998 L399.2,1005.8 L396.4,1011.4" fill="none" stroke-width="3.2"/>
 <path d="M402,970.5 Q404,985 401,998 L399.2,1005.8 L396.4,1011.4" fill="none" stroke="#fff" stroke-width="1.2"/>
 <path d="M397.3,958.5 L403,955.6 L409.4,957.5 L409.4,967.5 L403.5,970.5 L397.3,968.5 Z"/>
 <path d="M397.3,958.5 L403.5,961 L409.4,957.5 M403.5,961 L403.5,970.5" fill="none"/>
 <path d="M428.9,1031.8 L453.1,1045.5 L453.1,1049.5 L449,1050 L425,1036.5 Z"/>
 <path d="M425.2,1043 L449.4,1055 L449.4,1058.9 L445.5,1059 L421.5,1046.5 Z"/>
 <path d="M391.7,1013.2 L406.6,1004 L414,1004 L428.9,1010.5 L428.9,1043 L423.3,1048.6 L410.3,1047.7 L399.2,1043 L388,1041.1 L385.2,1037.4 Z"/>
 <path d="M414,1004 L420,1009 L428.9,1010.5 M420,1009 L420,1047" fill="none"/>
 <path d="M385,1015 L391,1012.5 L396.4,1016 L392,1043 L386,1044.5 L384,1040 Z" stroke-width="1.4"/>
 <path d="M388,1042 L395,1045 L397.5,1040" fill="none" stroke-width="2"/>
 <circle cx="410.3" cy="1031.8" r="5.4"/>
 <circle cx="402.9" cy="1011.4" r="2.8"/>
 <path d="M396.5,1022 L398,1035 M401,1020 Q404,1024 403,1028" fill="none"/>
 <!-- fender bracket -->
 <path d="M704.9,934.1 L708.6,927.6 L717.9,925.7 L727.2,925.7 L735.6,919.2 L739.3,912.7 L745.8,912.7 L755.1,911.7 L761.6,909 L768.1,932.2 L775.6,960.1 L779.3,976.8 L786.7,978.7 L790.4,981.5 L790.4,999.2 L760.7,1015.9 L749.5,1021.5 L745.8,1017.8 L745.8,1006.6 L740.2,999.2 L738.4,991.7 L727.2,973.1 L716,954.5 Z"/>
 <path d="M747.7,1002.9 L758.8,994.5 L760.7,1015.9 M758.8,994.5 L786.7,978.7 M745.8,1006.6 L747.7,1002.9" fill="none"/>
 <path d="M710.5,932.2 L745.8,988 M736.5,917.3 L768.1,984.3 M708,936 L742,993" fill="none"/>
 <path d="M743.9,915.5 L771.8,980.6" fill="none" stroke-width="2"/>
 <path d="M740,998 Q748,995 758,993 L770,987 L779.3,976.8" fill="none"/>
 <circle cx="782.1" cy="991.7" r="1.8" fill="none"/>
 <circle cx="756" cy="1006.6" r="1.8" fill="none"/>
 <circle cx="769.1" cy="1000.1" r="1.3" fill="#000"/>
 <!-- 92210A nut -->
 <path d="M679,947.5 L682.5,944.5 L686.5,945.5 L687.5,950 L684.5,954.5 L680.5,954 Z" stroke-width="1.3"/>
 <circle cx="683" cy="949.5" r="2" fill="none"/>
 <!-- reflector -->
 <path d="M789.5,1031.7 L844.4,1000.1 L850,1002.9 L850,1025.2 L795.1,1056.8 L789.5,1054 Z" stroke-width="1.2"/>
 <path d="M791.4,1034 L846.3,1003.8 L850,1002.9 M791.4,1034 L791.4,1054.5 M793.2,1035 L793.2,1055.8" fill="none"/>
 <path d="M798,1032 L806,1027.5 M818,1021 L828,1015.5 M836,1011 L845,1006" fill="none" stroke-width="1.3"/>
 <path d="M816.0,1025.5 l1.8,1.8 M821.4,1022.4 l-2.8,-0.1 M829.2,1028.2 l2.4,-1.5 M817.8,1031.2 l0.3,0.3 M826.0,1030.8 l-1.3,1.7 M822.3,1027.7 l1.8,-1.4 M819.9,1028.8 l-3.0,1.5 M823.0,1033.8 l2.9,1.5 M819.6,1038.6 l0.2,0.7 M824.7,1038.4 l1.1,1.9 M825.8,1028.0 l-0.8,-1.3 M823.2,1031.8 l-1.2,0.4 M829.9,1030.6 l-1.0,-0.8 M824.7,1025.5 l-1.1,-0.1 M821.5,1029.0 l2.9,-1.9 M822.0,1022.8 l-2.9,1.2 M817.2,1035.1 l-2.9,-1.8 M826.1,1038.0 l-1.8,1.0 M830.7,1027.0 l-0.9,-0.6 M813.5,1029.4 l-2.4,1.0 M824.7,1023.1 l-2.8,1.8 M826.4,1032.9 l0.7,1.7 M816.9,1037.3 l0.3,-0.8 M820.6,1033.3 l-2.5,-1.4 M818.3,1022.6 l-2.0,-1.8 M828.8,1030.0 l-0.6,-1.1 M814.6,1026.3 l-0.3,-0.3 M830.9,1033.3 l-2.8,-0.0 M823.6,1028.4 l1.4,1.8 M816.1,1025.1 l-2.4,-0.3 M827.3,1036.7 l-1.2,-0.2 M831.1,1030.5 l2.9,-0.2 M813.7,1031.0 l-0.1,-0.8 M819.4,1032.0 l-0.7,2.0 M829.3,1028.9 l-0.0,-0.6 M825.9,1032.6 l1.7,1.5 M816.4,1036.1 l1.6,0.8 M817.6,1024.3 l-0.8,0.8 M820.8,1035.9 l1.6,0.8 M819.4,1038.4 l0.9,0.3 M828.9,1030.9 l-1.5,0.7 M813.4,1032.2 l0.9,1.2 M817.6,1035.8 l1.4,1.3 M816.7,1036.7 l2.2,0.8 M831.6,1029.3 l0.1,0.1 M826.5,1037.1 l2.6,-0.1 M819.0,1024.0 l1.4,-1.3 M823.4,1024.5 l1.0,-0.3 M815.9,1025.4 l0.8,0.9 M825.3,1031.0 l-0.4,0.6 M823.5,1037.2 l0.8,-1.8 M818.0,1031.1 l-2.7,-1.5 M820.5,1033.3 l-1.8,-1.9 M816.5,1031.5 l0.7,0.4 M822.7,1038.5 l-3.0,-0.4 M821.0,1035.4 l-2.3,1.3 M821.0,1031.3 l0.7,-1.6 M817.0,1029.3 l0.5,1.8 M824.5,1025.9 l1.9,0.6 M819.9,1032.4 l0.6,0.3 M831.5,1028.3 l0.7,-0.6 M822.1,1030.4 l-2.4,0.3 M819.7,1028.8 l0.8,1.6 M817.7,1034.1 l-1.6,-0.8 M827.5,1029.7 l2.8,1.7 M818.3,1028.4 l2.9,-0.0 M817.7,1032.7 l2.9,-0.0 M820.5,1035.8 l-2.3,0.5 M817.5,1031.9 l1.7,1.3 M828.8,1031.0 l-1.4,1.7 M822.9,1026.9 l-1.4,-1.4 M826.8,1030.2 l0.6,-0.1 M817.5,1025.5 l1.5,-1.5 M822.3,1026.4 l0.2,-0.7 M820.0,1036.1 l-0.2,-0.6 M821.8,1024.3 l-2.8,-1.0 M812.9,1032.7 l2.3,0.2 M830.6,1031.2 l-0.4,0.3 M820.0,1024.3 l-0.1,1.6 M817.7,1033.7 l2.1,-1.2 M819.4,1037.8 l-2.6,1.3 M819.9,1025.7 l-1.3,1.1 M824.6,1029.1 l-0.1,0.2 M816.9,1030.6 l-2.1,0.3 M822.8,1028.9 l-1.6,1.3 M824.0,1024.1 l-2.8,0.9 M831.9,1029.4 l1.2,-1.8 M824.2,1027.6 l0.9,1.8 M821.3,1028.0 l-1.2,1.7 M826.4,1035.6 l-0.5,-1.4" fill="none" stroke-width="1" stroke="#222"/>
 <path d="M811,1022 Q815,1020 818,1022" fill="none"/>
</g>
<g class="p" fill="none">
 <!-- 11056B bracket wire -->
 <path d="M112,177.9 L112,206.8 L146.9,187.4 L164.4,161.9 L164.4,148 L151.4,138.5" stroke-width="4.2" stroke-linejoin="round"/>
 <path d="M112,177.9 L112,206.8 L146.9,187.4 L164.4,161.9 L164.4,148 L151.4,138.5" stroke="#fff" stroke-width="2" stroke-linejoin="round"/>
 <path d="M98.5,173.9 L99,179.9 L108.5,184.4 L109.5,175.9" fill="#fff"/>
 <path d="M98.5,168.4 L109,164.4 L118.9,164.4 L122.4,168.4 L119.9,173.9 L114,176.9 L109.5,175.9 L98.5,170 Z" fill="#fff"/>
 <path d="M98.5,169 L114,176.5" />
 <ellipse cx="113.5" cy="168.9" rx="2.6" ry="1.4"/>
 <path d="M143.9,152 L143.9,156.5 Q148.4,160 152.9,156.5 L152.9,152" fill="#fff"/>
 <path d="M140.4,148 L149.9,141.5 L159.9,144 L161.9,148.5 L153.9,153 L145.9,152.5 L140.9,151 Z" fill="#fff"/>
 <ellipse cx="147.9" cy="149" rx="2.6" ry="1.3"/>
 <path d="M151.4,138.5 L161,146" stroke-width="1"/>
 <!-- 92075 washer upper -->
 <ellipse cx="114" cy="226" rx="8.2" ry="5.4" fill="#fff" stroke-width="1.3"/>
 <path d="M109,224 L119,224 Q118,229 114,229.5 Q110,229 109,224 Z" stroke-width="1.2"/>
 <!-- 92075 lower -->
 <ellipse cx="230.6" cy="408.4" rx="8.1" ry="5.2" fill="#fff" stroke-width="1.3"/>
 <ellipse cx="230.5" cy="407.8" rx="4.2" ry="2.5" stroke-width="1.2"/>
 <!-- 92200 -->
 <ellipse cx="230.6" cy="430.3" rx="9.4" ry="6" fill="#fff" stroke-width="1.2"/>
 <ellipse cx="230.4" cy="430" rx="2.4" ry="1" fill="#000"/>
 <!-- 92151 bolt -->
 <path d="M227.3,447 L227.3,462.6 L233.8,462.6 L233.8,447 Q230.5,445 227.3,447 Z" fill="#fff" stroke-width="1.2"/>
 <path d="M227.3,450 Q230.5,452 233.8,450 M227.3,453.5 Q230.5,455.5 233.8,453.5 M227.3,457 Q230.5,459 233.8,457 M227.3,460 Q230.5,462 233.8,460" stroke-width="1"/>
 <ellipse cx="230.6" cy="464.8" rx="5" ry="2.4" fill="#fff" stroke-width="1.3"/>
 <path d="M228.5,466.5 L229.5,470 L231.8,470 L232.7,466.5" fill="#fff" stroke-width="1.2"/>
</g>

<g class="tx">
<text y="10.50" font-size="12.8" stroke-width="0.4"><tspan x="817.04">F</tspan><tspan x="825.72">2</tspan><tspan x="834.04">7</tspan><tspan x="842.37">7</tspan><tspan x="850.69">0</tspan></text>
<text y="39.70" font-size="16.2" stroke-width="0.55"><tspan x="536.15">2</tspan><tspan x="546.85">7</tspan><tspan x="557.55">0</tspan><tspan x="568.25">4</tspan><tspan x="578.95">5</tspan><tspan x="589.14" font-family="Liberation Mono">/</tspan><tspan x="599.45">A</tspan></text>
<text y="76.50" font-size="16.2" stroke-width="0.55"><tspan x="789.95">2</tspan><tspan x="800.80">7</tspan><tspan x="811.65">0</tspan><tspan x="822.50">0</tspan><tspan x="833.35">8</tspan></text>
<text y="136.10" font-size="16.2" stroke-width="0.55"><tspan x="281.15">5</tspan><tspan x="291.85">6</tspan><tspan x="302.55">0</tspan><tspan x="313.25">5</tspan><tspan x="323.95">4</tspan><tspan x="334.14" font-family="Liberation Mono">/</tspan><tspan x="344.45">A</tspan></text>
<text y="199.60" font-size="16.2" stroke-width="0.55"><tspan x="13.15">1</tspan><tspan x="23.85">1</tspan><tspan x="34.55">0</tspan><tspan x="45.25">5</tspan><tspan x="55.95">6</tspan><tspan x="65.75">B</tspan></text>
<text y="232.20" font-size="16.2" stroke-width="0.55"><tspan x="20.35">9</tspan><tspan x="31.15">2</tspan><tspan x="41.95">0</tspan><tspan x="52.75">7</tspan><tspan x="63.55">5</tspan></text>
<text y="272.80" font-size="16.2" stroke-width="0.55"><tspan x="327.65">2</tspan><tspan x="338.33">7</tspan><tspan x="349.01">0</tspan><tspan x="359.70">0</tspan><tspan x="370.38">5</tspan><tspan x="380.56" font-family="Liberation Mono">/</tspan><tspan x="390.85">A</tspan></text>
<text y="290.20" font-size="16.2" stroke-width="0.55"><tspan x="775.15">(</tspan><tspan x="782.06">O</tspan><tspan x="793.48">P</tspan><tspan x="804.45">T</tspan><tspan x="817.66">I</tspan><tspan x="824.12">O</tspan><tspan x="835.09">N</tspan><tspan x="848.75">)</tspan></text>
<text y="414.40" font-size="16.2" stroke-width="0.55"><tspan x="136.75">9</tspan><tspan x="147.70">2</tspan><tspan x="158.65">0</tspan><tspan x="169.60">7</tspan><tspan x="180.55">5</tspan></text>
<text y="437.00" font-size="16.2" stroke-width="0.55"><tspan x="135.35">9</tspan><tspan x="146.30">2</tspan><tspan x="157.25">2</tspan><tspan x="168.20">0</tspan><tspan x="179.15">0</tspan></text>
<text y="463.60" font-size="16.2" stroke-width="0.55"><tspan x="141.35">9</tspan><tspan x="152.15">2</tspan><tspan x="162.95">1</tspan><tspan x="173.75">5</tspan><tspan x="184.55">1</tspan></text>
<text y="411.20" font-size="16.2" stroke-width="0.55"><tspan x="588.95">1</tspan><tspan x="599.68">3</tspan><tspan x="610.41">0</tspan><tspan x="620.25">A</tspan></text>
<text y="436.10" font-size="16.2" stroke-width="0.55"><tspan x="414.95">1</tspan><tspan x="425.35">3</tspan><tspan x="435.75">0</tspan><tspan x="445.25">A</tspan></text>
<text y="470.70" font-size="16.2" stroke-width="0.55"><tspan x="810.15">2</tspan><tspan x="821.02">1</tspan><tspan x="831.90">0</tspan><tspan x="842.77">0</tspan><tspan x="853.65">7</tspan></text>
<text y="579.70" font-size="16.2" stroke-width="0.55"><tspan x="243.40">R</tspan><tspan x="255.46">e</tspan><tspan x="268.42">f</tspan><tspan x="276.83">.</tspan><tspan x="287.15">F</tspan><tspan x="300.12">r</tspan><tspan x="309.02">a</tspan><tspan x="317.49">m</tspan><tspan x="330.45">e</tspan></text>
<text y="577.50" font-size="16.2" stroke-width="0.55"><tspan x="113.85">1</tspan><tspan x="124.51">1</tspan><tspan x="135.17">0</tspan><tspan x="145.83">5</tspan><tspan x="156.49">6</tspan><tspan x="166.25">A</tspan></text>
<text y="626.80" font-size="16.2" stroke-width="0.55"><tspan x="14.15">2</tspan><tspan x="24.80">1</tspan><tspan x="35.45">1</tspan><tspan x="46.10">8</tspan><tspan x="56.75">1</tspan></text>
<text y="626.60" font-size="16.2" stroke-width="0.55"><tspan x="699.55">2</tspan><tspan x="710.25">7</tspan><tspan x="720.95">0</tspan><tspan x="731.65">1</tspan><tspan x="742.35">6</tspan></text>
<text y="632.60" font-size="16.2" stroke-width="0.55"><tspan x="437.85">1</tspan><tspan x="448.51">1</tspan><tspan x="459.17">0</tspan><tspan x="469.83">5</tspan><tspan x="480.49">6</tspan><tspan x="489.80">C</tspan></text>
<text y="679.80" font-size="16.2" stroke-width="0.55"><tspan x="459.55">1</tspan><tspan x="470.40">1</tspan><tspan x="481.25">0</tspan><tspan x="492.10">5</tspan><tspan x="502.95">6</tspan></text>
<text y="672.70" font-size="16.2" stroke-width="0.55"><tspan x="738.35">2</tspan><tspan x="748.85">7</tspan><tspan x="759.35">0</tspan><tspan x="769.85">1</tspan><tspan x="780.35">0</tspan><tspan x="789.95">A</tspan></text>
<text y="761.30" font-size="16.2" stroke-width="0.55"><tspan x="99.65">1</tspan><tspan x="110.30">3</tspan><tspan x="120.95">0</tspan></text>
<text y="768.00" font-size="16.2" stroke-width="0.55"><tspan x="432.55">2</tspan><tspan x="443.27">7</tspan><tspan x="453.99">0</tspan><tspan x="464.71">1</tspan><tspan x="475.43">6</tspan><tspan x="485.25">A</tspan></text>
<text y="814.70" font-size="16.2" stroke-width="0.55"><tspan x="288.30">R</tspan><tspan x="300.57">e</tspan><tspan x="313.75">f</tspan><tspan x="322.27">.</tspan><tspan x="332.45">E</tspan><tspan x="344.28">n</tspan><tspan x="355.21">g</tspan><tspan x="368.84">i</tspan><tspan x="377.06">n</tspan><tspan x="387.99">e</tspan><tspan x="407.60">M</tspan><tspan x="420.77">o</tspan><tspan x="431.69">u</tspan><tspan x="442.62">n</tspan><tspan x="455.80">t</tspan></text>
<text y="861.90" font-size="16.2" stroke-width="0.55"><tspan x="748.85">9</tspan><tspan x="759.75">2</tspan><tspan x="770.65">1</tspan><tspan x="781.55">4</tspan><tspan x="792.45">5</tspan></text>
<text y="944.50" font-size="16.2" stroke-width="0.55"><tspan x="146.50">R</tspan><tspan x="158.53">e</tspan><tspan x="171.46">f</tspan><tspan x="179.85">.</tspan><tspan x="189.67">S</tspan><tspan x="203.51">t</tspan><tspan x="211.94">a</tspan><tspan x="222.62">n</tspan><tspan x="233.30">d</tspan><tspan x="245.79">(</tspan><tspan x="255.12">s</tspan><tspan x="267.15">)</tspan></text>
<text y="956.00" font-size="16.2" stroke-width="0.55"><tspan x="10.95">9</tspan><tspan x="22.00">2</tspan><tspan x="33.05">2</tspan><tspan x="44.10">1</tspan><tspan x="55.15">0</tspan></text>
<text y="961.20" font-size="16.2" stroke-width="0.55"><tspan x="107.05">9</tspan><tspan x="117.57">2</tspan><tspan x="128.10">1</tspan><tspan x="138.62">6</tspan><tspan x="149.15">1</tspan></text>
<text y="964.60" font-size="16.2" stroke-width="0.55"><tspan x="278.35">9</tspan><tspan x="289.27">2</tspan><tspan x="300.20">1</tspan><tspan x="311.12">5</tspan><tspan x="322.05">4</tspan></text>
<text y="959.80" font-size="16.2" stroke-width="0.55"><tspan x="581.85">9</tspan><tspan x="592.47">2</tspan><tspan x="603.09">2</tspan><tspan x="613.71">1</tspan><tspan x="624.33">0</tspan><tspan x="634.05">A</tspan></text>
<text y="1015.90" font-size="16.2" stroke-width="0.55"><tspan x="516.00">R</tspan><tspan x="528.14">e</tspan><tspan x="541.19">f</tspan><tspan x="549.64">.</tspan><tspan x="559.18">R</tspan><tspan x="571.32">e</tspan><tspan x="582.11">a</tspan><tspan x="594.71">r</tspan><tspan x="614.05">F</tspan><tspan x="625.29">e</tspan><tspan x="636.08">n</tspan><tspan x="646.87">d</tspan><tspan x="657.67">e</tspan><tspan x="670.27">r</tspan><tspan x="681.06">(</tspan><tspan x="690.51">s</tspan><tspan x="702.65">)</tspan></text>
<text y="1056.00" font-size="16.2" stroke-width="0.55"><tspan x="52.45">9</tspan><tspan x="63.35">2</tspan><tspan x="74.25">1</tspan><tspan x="85.15">5</tspan><tspan x="96.05">2</tspan></text>
<text y="1053.80" font-size="16.2" stroke-width="0.55"><tspan x="702.85">2</tspan><tspan x="713.65">8</tspan><tspan x="724.45">0</tspan><tspan x="735.25">1</tspan><tspan x="746.05">2</tspan></text>
<text y="1074.40" font-size="16.2" stroke-width="0.55"><tspan x="258.25">9</tspan><tspan x="268.62">2</tspan><tspan x="279.00">1</tspan><tspan x="289.37">6</tspan><tspan x="299.75">1</tspan></text>
<text y="1093.70" font-size="16.2" stroke-width="0.55"><tspan x="324.95">1</tspan><tspan x="335.95">1</tspan><tspan x="346.95">0</tspan><tspan x="357.95">5</tspan><tspan x="368.95">4</tspan></text>
<text y="1100.40" font-size="16.2" stroke-width="0.55"><tspan x="409.65">2</tspan><tspan x="420.30">7</tspan><tspan x="430.95">0</tspan><tspan x="441.60">1</tspan><tspan x="452.25">0</tspan></text>
<text y="1100.70" font-size="16.2" stroke-width="0.55"><tspan x="108.95">9</tspan><tspan x="119.45">2</tspan><tspan x="129.95">1</tspan><tspan x="140.45">6</tspan><tspan x="150.95">1</tspan><tspan x="160.55">A</tspan></text>
</g>
</svg>
</body></html>
